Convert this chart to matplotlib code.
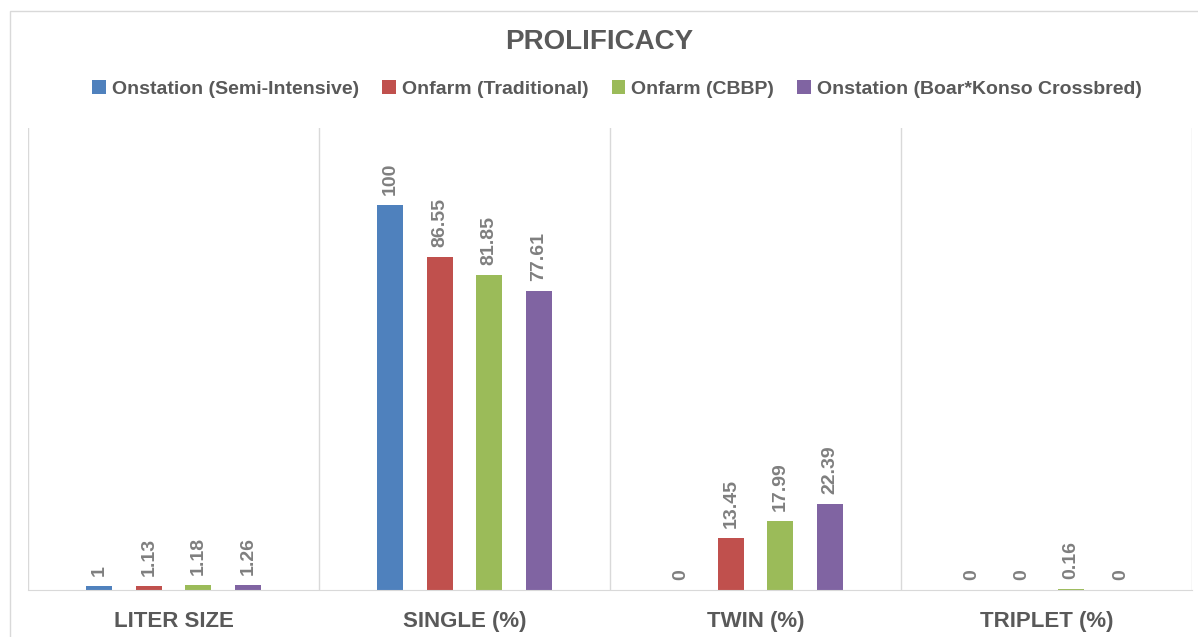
import numpy as np
import matplotlib
matplotlib.use('Agg')
import matplotlib.pyplot as plt
from matplotlib.patches import Rectangle

# ---------------------------------------------------------------
#   Prolificacy by production system
# ---------------------------------------------------------------

categories = ['LITER SIZE', 'SINGLE (%)', 'TWIN (%)', 'TRIPLET (%)']
series_names = ['Onstation (Semi-Intensive)', 'Onfarm (Traditional)',
                'Onfarm (CBBP)', 'Onstation (Boar*Konso Crossbred)']
onstation_semi = [1, 100, 0, 0]
onfarm_trad = [1.13, 86.55, 13.45, 0]
onfarm_cbbp = [1.18, 81.85, 17.99, 0.16]
onstation_cross = [1.26, 77.61, 22.39, 0]
label_text = [['1', '100', '0', '0'],
              ['1.13', '86.55', '13.45', '0'],
              ['1.18', '81.85', '17.99', '0.16'],
              ['1.26', '77.61', '22.39', '0']]

colors = ['#4f81bd', '#c0504d', '#9bbb59', '#8064a2']
text_col = '#595959'
label_col = '#7f7f7f'
grid_col = '#d9d9d9'

plt.rcParams['font.family'] = ['Liberation Sans', 'DejaVu Sans']

fig = plt.figure(figsize=(11.98, 6.37), dpi=100)
fig.patches.append(Rectangle((10 / 1198, -0.1), 1.2, 1 - 11 / 637 + 0.1,
                             transform=fig.transFigure, fill=False,
                             edgecolor=grid_col, linewidth=1))

ax = fig.add_axes([0.0234, 0.0738, 0.9716, 0.7252])

data = [onstation_semi, onfarm_trad, onfarm_cbbp, onstation_cross]
x = np.arange(len(categories))
offsets = [-0.256, -0.085, 0.085, 0.256]
width = 0.09
for i, vals in enumerate(data):
    ax.bar(x + offsets[i], vals, width, color=colors[i], label=series_names[i])
    for j, v in enumerate(vals):
        ax.text(x[j] + offsets[i], v + 2.6, label_text[i][j], rotation=90,
                ha='center', va='bottom', color=label_col, fontsize=14,
                fontweight='bold')

ax.set_xlim(-0.5, 3.5)
ax.set_ylim(0, 120)
ax.set_yticks([])
ax.set_xticks(x)
ax.set_xticklabels(categories, fontsize=16, fontweight='bold', color=text_col)
ax.tick_params(axis='x', length=0, pad=15)
for s in ['top', 'right', 'left']:
    ax.spines[s].set_visible(False)
ax.spines['bottom'].set_color(grid_col)
for xv in [-0.5, 0.5, 1.5, 2.5, 3.5]:
    ax.axvline(xv, color=grid_col, linewidth=1, zorder=0)

fig.text(0.5, 1 - 42 / 637, 'PROLIFICACY', ha='center', va='center',
         fontsize=20, fontweight='bold', color=text_col)
fig.legend(loc='center', bbox_to_anchor=(0.515, 1 - 89 / 637), ncol=4,
           frameon=False, handlelength=0.7, handleheight=0.7, handletextpad=0.3,
           columnspacing=1.2, prop={'size': 14, 'weight': 'bold'},
           labelcolor=text_col)

fig.savefig('out.png', dpi=100)
